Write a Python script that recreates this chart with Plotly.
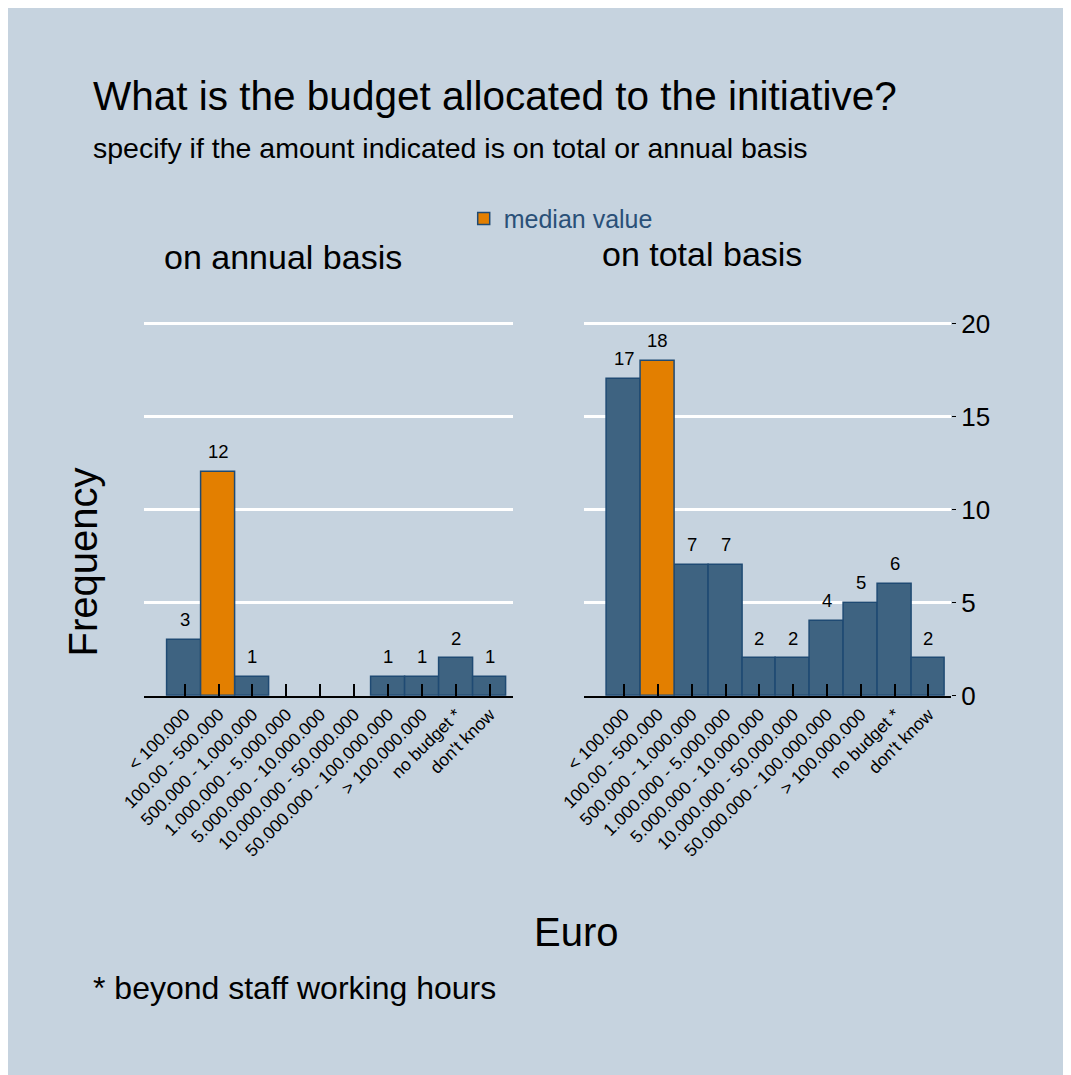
import plotly.graph_objects as go

categories = ["< 100.000", "100.00 - 500.000", "500.000 - 1.000.000",
              "1.000.000 - 5.000.000", "5.000.000 - 10.000.000",
              "10.000.000 - 50.000.000", "50.000.000 - 100.000.000",
              "> 100.000.000", "no budget *", "don't know"]
annual_counts = [3, 12, 1, 0, 0, 0, 1, 1, 2, 1]
total_counts = [17, 18, 7, 7, 2, 2, 4, 5, 6, 2]
annual_median_cat = "100.00 - 500.000"
total_median_cat = "100.00 - 500.000"
y_ticks = [0, 5, 10, 15, 20]

BG = "#c6d3df"
BLUE = "#3e6381"
ORANGE = "#e37f00"
EDGE = "#1f4a73"
FONT = "Liberation Sans, Arial, sans-serif"

W, H = 1071, 1075
OFF = 8  # page margin around the figure in the screenshot


def px_x(t):
    return (t - OFF) / W


def px_y(t):
    return 1 - (t - OFF) / H


fig = go.Figure()


def add_panel(counts, median_cat, xa, ya, show_legend):
    blue_y = [None if (c == median_cat or v == 0) else v for c, v in zip(categories, counts)]
    med_y = [v if c == median_cat else None for c, v in zip(categories, counts)]
    fig.add_trace(go.Bar(x=categories, y=blue_y, name="frequency",
                         marker=dict(color=BLUE, line=dict(color=EDGE, width=1.5)),
                         showlegend=False, xaxis=xa, yaxis=ya, hoverinfo="x+y"))
    fig.add_trace(go.Bar(x=categories, y=med_y, name="median value",
                         marker=dict(color=ORANGE, line=dict(color=EDGE, width=1.5)),
                         showlegend=show_legend, xaxis=xa, yaxis=ya, hoverinfo="x+y"))
    for c, v in zip(categories, counts):
        if v:
            fig.add_annotation(x=c, y=v, xref=xa, yref=ya, text=str(v), showarrow=False,
                               xanchor="center", yanchor="bottom", yshift=8,
                               font=dict(size=18.5, color="black", family=FONT))


add_panel(annual_counts, annual_median_cat, "x", "y", True)
add_panel(total_counts, total_median_cat, "x2", "y2", False)

YMAX = 20.4
y0 = 703 - OFF
y20 = 323 - OFF
ytop = y0 - YMAX * (y0 - y20) / 20
ydom = [1 - y0 / H, 1 - ytop / H]
xrange = [-1.19, 9.67]
xaxis_common = dict(type="category", range=xrange, showline=True, linecolor="black",
                    linewidth=1.5, ticks="inside", ticklen=12, tickcolor="black",
                    tickwidth=1.5, tickangle=-45, showgrid=False, zeroline=False,
                    tickfont=dict(size=17.5, color="black", family=FONT), fixedrange=True)
yaxis_common = dict(range=[0, YMAX], domain=ydom, tickvals=y_ticks, showgrid=True,
                    gridcolor="white", gridwidth=2.5, zeroline=False, showline=False,
                    fixedrange=True)

fig.update_layout(
    width=W, height=H,
    margin=dict(l=0, r=0, t=0, b=0),
    paper_bgcolor=BG, plot_bgcolor=BG,
    barmode="overlay", bargap=0,
    font=dict(family=FONT, color="black"),
    xaxis=dict(domain=[px_x(122), px_x(499)], anchor="y", **xaxis_common),
    xaxis2=dict(domain=[px_x(572), px_x(948)], anchor="y2", **xaxis_common),
    yaxis=dict(anchor="x", showticklabels=False, ticks="", **yaxis_common),
    yaxis2=dict(anchor="x2", side="right", ticks="outside", ticklen=4, tickcolor="black",
                tickfont=dict(size=26, color="black", family=FONT), **yaxis_common),
    legend=dict(x=px_x(449), y=px_y(216), xanchor="left", yanchor="middle",
                bgcolor="rgba(0,0,0,0)", font=dict(size=25, color="#2a5078", family=FONT)),
    showlegend=True,
)


def ann(text, x, y, size, xanchor="left", yanchor="middle", angle=0, color="black"):
    fig.add_annotation(text=text, x=x, y=y, xref="paper", yref="paper",
                       xanchor=xanchor, yanchor=yanchor, showarrow=False,
                       textangle=angle, font=dict(size=size, color=color, family=FONT))


ann("What is the budget allocated to the initiative?", px_x(67), px_y(91), 40.5)
ann("specify if the amount indicated is on total or annual basis", px_x(67), px_y(144), 28.5)
ann("on annual basis", px_x(264), px_y(255), 34, xanchor="center")
ann("on total basis", px_x(693), px_y(252), 34, xanchor="center")
ann("Frequency", px_x(59), px_y(566), 40, xanchor="center", angle=-90)
ann("Euro", px_x(564), px_y(944), 40, xanchor="center")
ann("* beyond staff working hours", px_x(67), px_y(1001), 32)

fig.write_html("out.html")
